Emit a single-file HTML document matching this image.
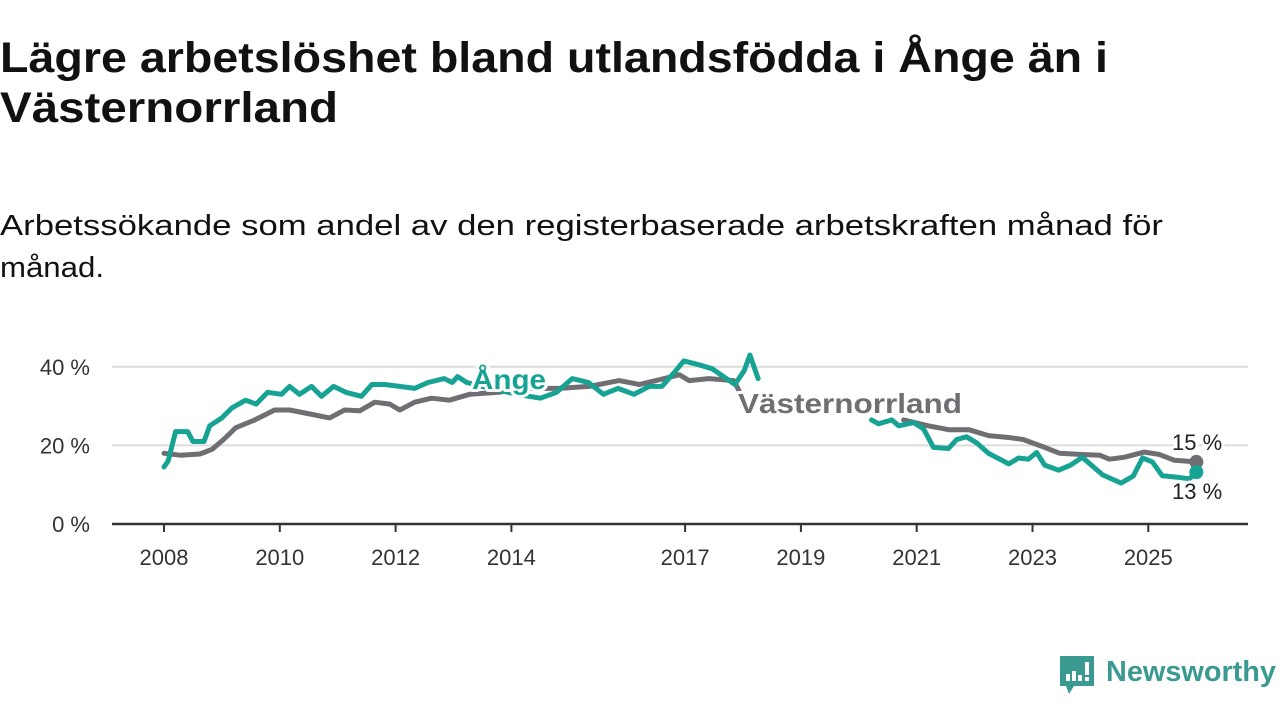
<!DOCTYPE html>
<html><head><meta charset="utf-8"><style>
html,body{margin:0;padding:0;background:#fff;width:1280px;height:720px;overflow:hidden}
svg text{font-family:"Liberation Sans",sans-serif}
</style></head><body>
<svg id="chart" width="1280" height="720" viewBox="0 0 1280 720" xmlns="http://www.w3.org/2000/svg">
<text x="0" y="72" font-size="43" font-weight="bold" fill="#111" textLength="1108" lengthAdjust="spacingAndGlyphs">Lägre arbetslöshet bland utlandsfödda i Ånge än i</text>
<text x="0" y="122" font-size="43" font-weight="bold" fill="#111" textLength="338" lengthAdjust="spacingAndGlyphs">Västernorrland</text>
<text x="0" y="235" font-size="29" fill="#111" textLength="1163" lengthAdjust="spacingAndGlyphs">Arbetssökande som andel av den registerbaserade arbetskraften månad för</text>
<text x="0" y="277" font-size="29" fill="#111" textLength="104" lengthAdjust="spacingAndGlyphs">månad.</text>
<g id="grid"></g><g id="axis"></g><g id="series"></g><g id="labels"></g>
<g>
<path d="M1060 656 h34 v30 h-20 l-5 8 l-3 -8 h-6 z" fill="#3a9a92"/>
<rect x="1066" y="674" width="4" height="7" fill="#fff"/><rect x="1072" y="671" width="4" height="10" fill="#fff"/><rect x="1078" y="675" width="4" height="6" fill="#fff"/><rect x="1085" y="662" width="4" height="13" fill="#fff"/><rect x="1085" y="677" width="4" height="4" fill="#fff"/>
<text x="1106" y="681" font-size="29" font-weight="bold" fill="#3a9a92" textLength="170" lengthAdjust="spacingAndGlyphs">Newsworthy</text>
</g>
</svg>
<script>
const yTicks=[0,20,40];
const xTickYears=[2008,2010,2012,2014,2017,2019,2021,2023,2025];
const angeYears1=[2008.0,2008.07,2008.2,2008.41,2008.5,2008.69,2008.79,2009.0,2009.17,2009.41,2009.59,2009.79,2010.03,2010.17,2010.34,2010.55,2010.72,2010.93,2011.14,2011.41,2011.59,2011.81,2012.07,2012.33,2012.56,2012.84,2012.98,2013.07,2013.23,2013.5,2013.8,2014.1,2014.5,2014.78,2015.05,2015.33,2015.59,2015.84,2016.12,2016.38,2016.6,2016.81,2016.98,2017.24,2017.47,2017.86,2018.02,2018.12,2018.26];
const angeVals1=[14.5,16,23.5,23.5,21,21,25,27,29.5,31.5,30.5,33.5,33,35,33,35,32.5,35,33.5,32.5,35.5,35.5,35,34.5,36,37,36,37.5,36,35,34,33,32,33.5,37,36,33,34.5,33,35,35,38.5,41.5,40.5,39.5,35.5,39,43,37];
const angeYears2=[2020.22,2020.34,2020.57,2020.69,2020.95,2021.12,2021.29,2021.55,2021.69,2021.86,2022.03,2022.24,2022.59,2022.76,2022.93,2023.07,2023.21,2023.45,2023.66,2023.86,2024.21,2024.53,2024.74,2024.9,2025.07,2025.24,2025.5,2025.71,2025.83];
const angeVals2=[26.5,25.5,26.5,25,25.8,24.2,19.5,19.2,21.5,22.2,20.7,18,15.3,16.8,16.5,18.2,15,13.7,15,17,12.5,10.4,12.2,16.8,15.8,12.3,11.9,11.5,13.2];
const vastYears1=[2008.0,2008.28,2008.62,2008.83,2009.03,2009.24,2009.57,2009.91,2010.17,2010.52,2010.86,2011.12,2011.38,2011.64,2011.9,2012.07,2012.33,2012.62,2012.93,2013.28,2013.79,2014.14,2014.83,2015.34,2015.86,2016.21,2016.64,2016.9,2017.07,2017.41,2017.84,2017.93];
const vastVals1=[18,17.5,17.8,19,21.5,24.5,26.5,29,29,28,27,29,28.8,31,30.5,29,31,32,31.5,33,33.5,34.5,34.5,35,36.5,35.5,37,38,36.5,37,36.5,34];
const vastYears2=[2020.774,2021.2,2021.55,2021.9,2022.24,2022.59,2022.84,2023.21,2023.47,2023.81,2024.16,2024.33,2024.59,2024.93,2025.19,2025.45,2025.83];
const vastVals2=[26.5,25,24,24,22.5,22,21.5,19.5,18,17.7,17.5,16.5,17,18.3,17.7,16.2,15.8];
const endLabels=["15 %","13 %"];
const X0=164,PXY=57.9,Y0=524,PXV=3.93;
const xs=t=>X0+(t-2008)*PXY, ys=v=>Y0-v*PXV;
const NS="http://www.w3.org/2000/svg";
function mk(tag,attrs,parent){const e=document.createElementNS(NS,tag);for(const k in attrs)e.setAttribute(k,attrs[k]);parent.appendChild(e);return e;}
const grid=document.getElementById('grid'),axis=document.getElementById('axis'),ser=document.getElementById('series'),lab=document.getElementById('labels');
yTicks.forEach(v=>{
 if(v>0){const l=mk('line',{x1:112,x2:1248,y1:ys(v),y2:ys(v),stroke:'#dcdcdc','stroke-width':2},grid);
 
 }
 const t=mk('text',{x:90,y:ys(v)+8,'font-size':22,fill:'#333','text-anchor':'end'},axis);t.textContent=v+' %';
 
 
});
const base=mk('line',{x1:112,x2:1248,y1:Y0,y2:Y0,stroke:'#333','stroke-width':2.5},axis);


xTickYears.forEach(y=>{
 const tk=mk('line',{x1:xs(y),x2:xs(y),y1:Y0,y2:Y0+8,stroke:'#333','stroke-width':2},axis);
 
 
 const t=mk('text',{x:xs(y),y:Y0+41,'font-size':22,fill:'#333','text-anchor':'middle'},axis);t.textContent=y;
 
 
});
function path(yrs,vals){return yrs.map((t,i)=>(i?'L':'M')+xs(t).toFixed(1)+' '+ys(vals[i]).toFixed(1)).join(' ');}
const common={fill:'none','stroke-width':5,'stroke-linejoin':'round','stroke-linecap':'round'};
[[vastYears1,vastVals1,'#6f6e72','vasternorrland-line-1'],[vastYears2,vastVals2,'#6f6e72','vasternorrland-line-2'],[angeYears1,angeVals1,'#16a394','ange-line-1'],[angeYears2,angeVals2,'#16a394','ange-line-2']].forEach(s=>{
 const p=mk('path',Object.assign({d:path(s[0],s[1]),stroke:s[2]},common),ser);
 
 
});
const d1=mk('circle',{cx:xs(vastYears2[vastYears2.length-1]),cy:ys(vastVals2[vastVals2.length-1]),r:7,fill:'#6f6e72'},ser);


const d2=mk('circle',{cx:xs(angeYears2[angeYears2.length-1]),cy:ys(angeVals2[angeVals2.length-1]),r:7,fill:'#16a394'},ser);


function label(txt,x,y,col,size,bold,name,len){
 const a={x:x,y:y,'font-size':size,'font-weight':bold?'bold':'normal',fill:col,stroke:'#fff','stroke-width':6,'paint-order':'stroke','stroke-linejoin':'round'};
 if(len){a.textLength=len;a.lengthAdjust='spacingAndGlyphs';}
 const t=mk('text',a,lab);t.textContent=txt;
 
 
}
label('Ånge',472,389,'#16a394',28,true,'ange-series-label',74);
label('Västernorrland',738,413,'#6f6e72',28,true,'vasternorrland-series-label',224);
label(endLabels[0],1172,450,'#222',22,false,'vasternorrland-end-value');
label(endLabels[1],1172,499,'#222',22,false,'ange-end-value');
</script>
</body></html>
